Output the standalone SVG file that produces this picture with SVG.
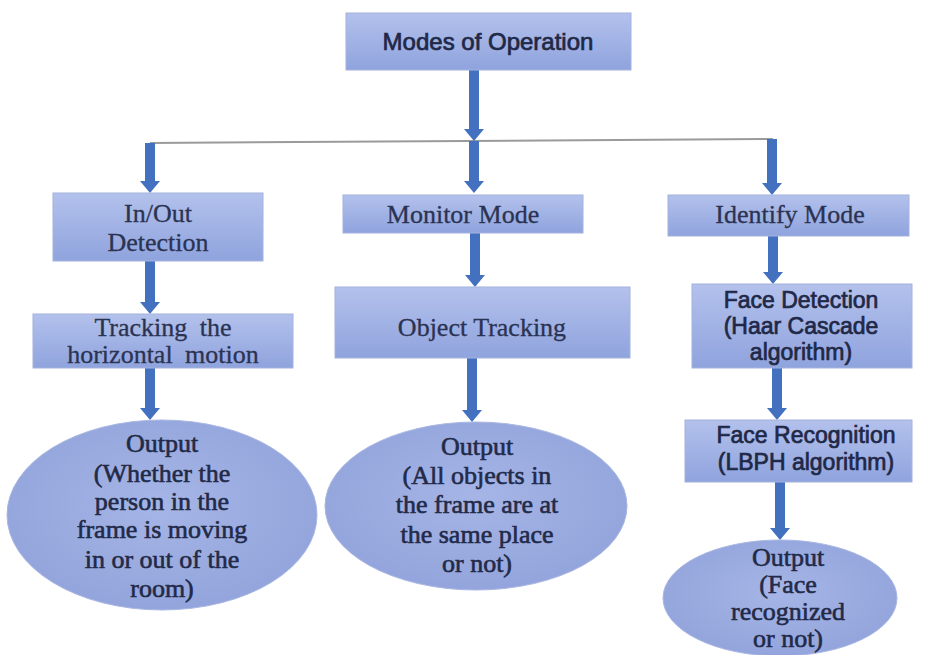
<svg xmlns="http://www.w3.org/2000/svg" width="925" height="655" viewBox="0 0 925 655">
<defs>
<linearGradient id="boxg" x1="0" y1="0" x2="0" y2="1">
<stop offset="0" stop-color="#b3c1ec"/>
<stop offset="1" stop-color="#8fa3dd"/>
</linearGradient>
<radialGradient id="ellg" cx="0.5" cy="0.45" r="0.6">
<stop offset="0" stop-color="#a6b5e6"/>
<stop offset="1" stop-color="#91a3db"/>
</radialGradient>
<marker id="ah" viewBox="0 0 12 20" refX="0" refY="10" markerWidth="12" markerHeight="20" markerUnits="userSpaceOnUse" orient="auto">
<path d="M0,0 L12,10 L0,20 z" fill="#4470c0"/>
</marker>
</defs>
<style>
.box{fill:url(#boxg);stroke:#a4b2de;stroke-width:1}
.ell{fill:url(#ellg);stroke:#a9b7e2;stroke-width:1}
.arr{stroke:#4470c0;stroke-width:10;fill:none;marker-end:url(#ah)}
.hl{stroke:#9a9a9a;stroke-width:2;fill:none}
.sans{font-family:"Liberation Sans",Arial,sans-serif;fill:#1f2847;stroke:#1f2847;stroke-width:0.7;text-anchor:middle}
.serif{font-family:"Liberation Serif","Times New Roman",serif;font-size:26px;fill:#2b3352;stroke:#2b3352;stroke-width:0.3;text-anchor:middle}
.serifb{font-family:"Liberation Serif","Times New Roman",serif;font-size:26px;fill:#222a48;stroke:#222a48;stroke-width:0.6;text-anchor:middle}
</style>
<rect width="925" height="655" fill="#ffffff"/>

<g id="connectors">
<path class="hl" d="M150,143 L773,139"/>
<line class="arr" x1="474" y1="70" x2="474" y2="129"/>
<line class="arr" x1="474" y1="141" x2="474" y2="181"/>
<line class="arr" x1="150" y1="143" x2="150" y2="181"/>
<line class="arr" x1="772" y1="139" x2="772" y2="183"/>
<line class="arr" x1="150" y1="261" x2="150" y2="302"/>
<line class="arr" x1="150" y1="368" x2="150" y2="408"/>
<line class="arr" x1="475" y1="233" x2="475" y2="275"/>
<line class="arr" x1="472" y1="358" x2="472" y2="410"/>
<line class="arr" x1="773" y1="236" x2="773" y2="272"/>
<line class="arr" x1="777" y1="368" x2="777" y2="408"/>
<line class="arr" x1="780" y1="482" x2="780" y2="528"/>
</g>

<g id="modes">
<rect class="box" x="346" y="13" width="285" height="57"/>
<text class="sans" x="488" y="50" font-size="24">Modes of Operation</text>
</g>

<g id="inout">
<rect class="box" x="53" y="193" width="210" height="68"/>
<text class="serif" x="158" y="222">In/Out</text>
<text class="serif" x="158" y="251">Detection</text>
</g>

<g id="tracking">
<rect class="box" x="33" y="314" width="260" height="54"/>
<text class="serif" x="163" y="336" word-spacing="6">Tracking the</text>
<text class="serif" x="163" y="363" word-spacing="6">horizontal motion</text>
</g>

<g id="output1">
<ellipse class="ell" cx="162" cy="515" rx="155" ry="95"/>
<text class="serifb" x="162" y="452">Output</text>
<text class="serifb" x="162" y="482">(Whether the</text>
<text class="serifb" x="162" y="510">person in the</text>
<text class="serifb" x="162" y="538">frame is moving</text>
<text class="serifb" x="162" y="568">in or out of the</text>
<text class="serifb" x="162" y="597">room)</text>
</g>

<g id="monitor">
<rect class="box" x="343" y="195" width="240" height="38"/>
<text class="serif" x="463" y="223">Monitor Mode</text>
</g>

<g id="objtrack">
<rect class="box" x="335" y="287" width="295" height="71"/>
<text class="serif" x="482" y="336">Object Tracking</text>
</g>

<g id="output2">
<ellipse class="ell" cx="476" cy="506" rx="151" ry="84"/>
<text class="serifb" x="477" y="455">Output</text>
<text class="serifb" x="477" y="484">(All objects in</text>
<text class="serifb" x="477" y="513">the frame are at</text>
<text class="serifb" x="477" y="543">the same place</text>
<text class="serifb" x="477" y="572">or not)</text>
</g>

<g id="identify">
<rect class="box" x="668" y="195" width="241" height="41"/>
<text class="serif" x="790" y="223">Identify Mode</text>
</g>

<g id="facedet">
<rect class="box" x="692" y="284" width="220" height="84"/>
<text class="sans" x="801" y="308" font-size="23">Face Detection</text>
<text class="sans" x="801" y="334" font-size="23">(Haar Cascade</text>
<text class="sans" x="801" y="360" font-size="23">algorithm)</text>
</g>

<g id="facerec">
<rect class="box" x="685" y="420" width="227" height="62"/>
<text class="sans" x="806" y="443" font-size="23">Face Recognition</text>
<text class="sans" x="806" y="470" font-size="23">(LBPH algorithm)</text>
</g>

<g id="output3">
<ellipse class="ell" cx="780" cy="598" rx="117" ry="58"/>
<text class="serifb" x="788" y="566" font-size="21">Output</text>
<text class="serifb" x="788" y="593" font-size="21">(Face</text>
<text class="serifb" x="788" y="620" font-size="21">recognized</text>
<text class="serifb" x="788" y="647" font-size="21">or not)</text>
</g>
</svg>
